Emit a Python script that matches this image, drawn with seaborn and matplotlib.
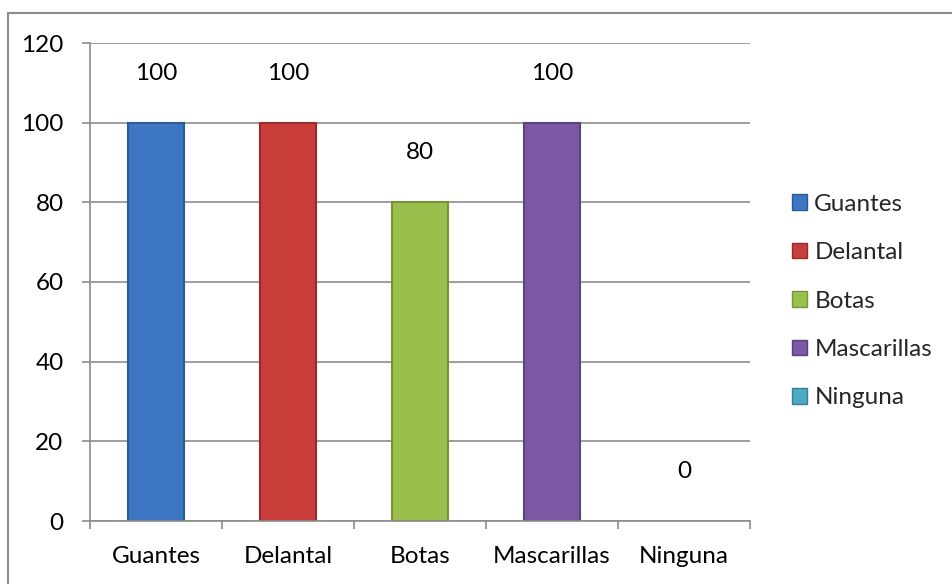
import matplotlib
matplotlib.use("Agg")
import matplotlib.pyplot as plt
from matplotlib.patches import Rectangle, Patch
import seaborn as sns
import pandas as pd

categories = ["Guantes", "Delantal", "Botas", "Mascarillas", "Ninguna"]
values = [100, 100, 80, 100, 0]
colors = ["#3D76C2", "#C93D3A", "#9BBF4C", "#7B58A4", "#4BACC6"]
edge_colors = ["#2C5A96", "#972D2B", "#76933A", "#5C427C", "#367F93"]
y_ticks = [0, 20, 40, 60, 80, 100, 120]

sns.set_theme(style="white")
plt.rcParams["font.family"] = ["Lato", "DejaVu Sans"]
FS = 17.5

df = pd.DataFrame({"categoria": categories, "valor": values})

fig = plt.figure(figsize=(9.53, 5.84), dpi=100)
ax = fig.add_axes([90 / 953, 1 - 521 / 584, (750 - 90) / 953, (521 - 43) / 584])

sns.barplot(data=df, x="categoria", y="valor", hue="categoria",
            palette=dict(zip(categories, colors)), width=0.42,
            dodge=False, legend=False, ax=ax, saturation=1)

# darker rim around each bar for a bevelled look (none on empty bars)
for cont, ec in zip(ax.containers, edge_colors):
    for bar in cont:
        bar.set_edgecolor(ec)
        bar.set_linewidth(1.5 if bar.get_height() > 0 else 0)

for cont in ax.containers:
    ax.bar_label(cont, labels=[f"{v:g}" for v in cont.datavalues],
                 padding=28, fontsize=FS, color="black")

ax.set_ylim(0, 120)
ax.set_xlim(-0.5, len(categories) - 0.5)
ax.set_yticks(y_ticks)
ax.set_yticklabels([str(t) for t in y_ticks], fontsize=FS, color="black")
ax.set_xticks(range(len(categories)))
ax.set_xticklabels(categories, fontsize=FS, color="black")
ax.set_xlabel("")
ax.set_ylabel("")

grid_c = "#8C8C8C"
ax.yaxis.grid(True, color=grid_c, linewidth=1.2)
ax.set_axisbelow(True)
for s in ["top", "right"]:
    ax.spines[s].set_visible(False)
for s in ["left", "bottom"]:
    ax.spines[s].set_color(grid_c)
    ax.spines[s].set_linewidth(1.2)

# y ticks point outward on the left; x ticks sit at category boundaries
ax.tick_params(axis="y", which="major", left=True, length=6, width=1.2,
               color=grid_c, pad=13)
ax.tick_params(axis="x", which="major", bottom=False, pad=12)
ax.set_xticks([i - 0.5 for i in range(len(categories) + 1)], minor=True)
ax.tick_params(axis="x", which="minor", bottom=True, length=6, width=1.2,
               color=grid_c)

handles = [Patch(facecolor=c, edgecolor=ec, linewidth=1)
           for c, ec in zip(colors, edge_colors)]
fig.legend(handles, categories, loc="center left",
           bbox_to_anchor=(792 / 953, 1 - 301 / 584), frameon=False,
           fontsize=FS, handlelength=0.62, handleheight=0.62,
           handletextpad=0.3, labelspacing=1.13, borderaxespad=0,
           borderpad=0)

# outer chart-area border
fig.patches.append(Rectangle((8 / 953, -0.05), 1.1, 1 - 13 / 584 + 0.05,
                             transform=fig.transFigure, fill=False,
                             edgecolor=grid_c, linewidth=1.5))

fig.savefig("out.png", dpi=100, facecolor="white")
